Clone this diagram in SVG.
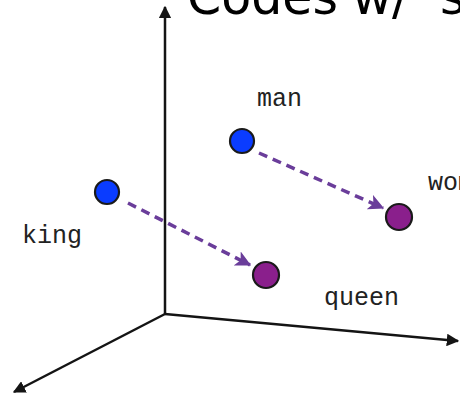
<svg xmlns="http://www.w3.org/2000/svg" width="460" height="397" viewBox="0 0 460 397">
  <style>
    .axis { stroke: #141414; stroke-width: 2.5; fill: none; }
    .vec { stroke: #6a3d9a; stroke-width: 3.5; fill: none; stroke-dasharray: 9 6; }
    .blue { fill: #0a3cff; stroke: #1a1a1a; stroke-width: 2.2; }
    .purple { fill: #8a1f8c; stroke: #1a1a1a; stroke-width: 2.2; }
    .lbl { font-family: "Liberation Mono", "Courier New", monospace; font-size: 25px; fill: #222; }
    .title { font-family: "DejaVu Sans", Verdana, sans-serif; font-size: 49px; fill: #000; }
  </style>
  <defs>
    <marker id="ah" viewBox="0 0 10 10" refX="9" refY="5" markerWidth="5" markerHeight="5" orient="auto" markerUnits="strokeWidth">
      <path d="M0,0 L10,5 L0,10 Z" fill="#141414"/>
    </marker>
    <marker id="vh" viewBox="0 0 12 12" refX="11" refY="6" markerWidth="4.5" markerHeight="4.5" orient="auto" markerUnits="strokeWidth">
      <path d="M0,0 L12,6 L0,12 L3,6 Z" fill="#6a3d9a"/>
    </marker>
  </defs>
  <rect width="460" height="397" fill="#ffffff"/>
  <text class="title" y="14"><tspan x="187">Codes</tspan> <tspan x="352">w/</tspan> <tspan x="440">s</tspan></text>
  <g id="axes">
    <line class="axis" x1="165" y1="314" x2="165" y2="7" marker-end="url(#ah)"/>
    <line class="axis" x1="165" y1="314" x2="458" y2="341" marker-end="url(#ah)"/>
    <line class="axis" x1="165" y1="314" x2="14" y2="392" marker-end="url(#ah)"/>
  </g>
  <g id="connectors">
    <line class="vec" x1="128" y1="203" x2="250" y2="265" marker-end="url(#vh)"/>
    <line class="vec" x1="259" y1="153" x2="383" y2="208" marker-end="url(#vh)"/>
  </g>
  <g id="king">
    <circle class="blue" cx="107" cy="192" r="12"/>
    <text class="lbl" x="22" y="243">king</text>
  </g>
  <g id="man">
    <circle class="blue" cx="242" cy="141" r="12"/>
    <text class="lbl" x="257" y="106">man</text>
  </g>
  <g id="queen">
    <circle class="purple" cx="266" cy="275" r="13"/>
    <text class="lbl" x="324" y="305">queen</text>
  </g>
  <g id="woman">
    <circle class="purple" cx="399" cy="217" r="13"/>
    <text class="lbl" x="428" y="190">woman</text>
  </g>
</svg>
